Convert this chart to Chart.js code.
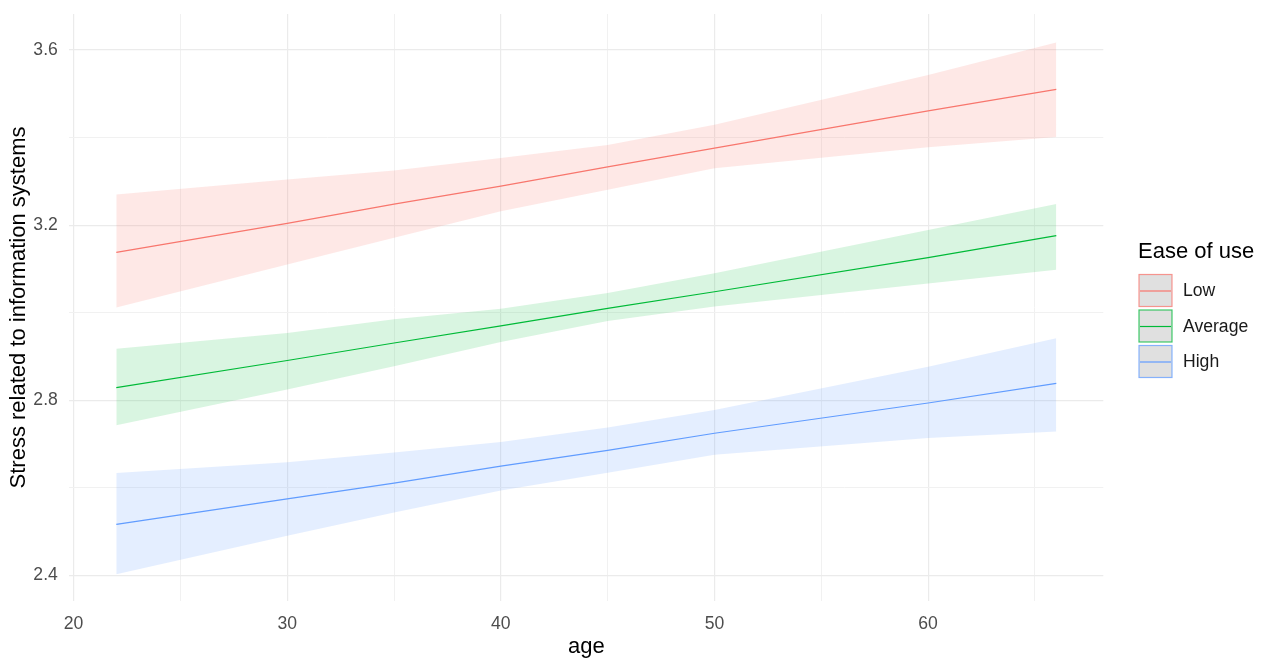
<!DOCTYPE html>
<html>
<head>
<meta charset="utf-8">
<script src="https://cdn.jsdelivr.net/npm/chart.js@4"></script>
<style>
  body { margin: 0; background: #fff; }
  #wrap { width: 1267px; height: 660px; }
</style>
</head>
<body>
<div id="wrap"><canvas id="chart" width="1267" height="660"></canvas></div>
<script>
// ages at which the effect lines / bands were read
const ages = [22, 30, 35, 40, 45, 50, 60, 66];

const groups = ['Low', 'Average', 'High'];
const colors = ['#F8766D', '#00BA38', '#619CFF'];
const fills = ['rgba(248,118,109,0.17)', 'rgba(0,186,56,0.15)', 'rgba(97,156,255,0.17)'];

const lowFit   = [3.138, 3.204, 3.248, 3.289, 3.333, 3.376, 3.461, 3.510];
const lowUpper = [3.270, 3.304, 3.325, 3.353, 3.383, 3.429, 3.543, 3.617];
const lowLower = [3.012, 3.110, 3.171, 3.232, 3.281, 3.330, 3.378, 3.401];

const avgFit   = [2.829, 2.891, 2.931, 2.970, 3.010, 3.048, 3.126, 3.176];
const avgUpper = [2.918, 2.954, 2.985, 3.009, 3.045, 3.090, 3.189, 3.248];
const avgLower = [2.743, 2.825, 2.878, 2.933, 2.981, 3.014, 3.067, 3.098];

const highFit   = [2.517, 2.575, 2.611, 2.650, 2.686, 2.725, 2.794, 2.839];
const highUpper = [2.634, 2.659, 2.681, 2.705, 2.738, 2.778, 2.877, 2.942];
const highLower = [2.403, 2.491, 2.544, 2.594, 2.635, 2.676, 2.714, 2.729];

const xMajor = [20, 30, 40, 50, 60];
const xMinor = [25, 35, 45, 55, 65];
const yMajor = [2.4, 2.8, 3.2, 3.6];
const yMinor = [2.6, 3.0, 3.4];

const fits = [lowFit, avgFit, highFit];
const uppers = [lowUpper, avgUpper, highUpper];
const lowers = [lowLower, avgLower, highLower];

const pts = arr => arr.map((v, i) => ({x: ages[i], y: v}));
const FONT = '"Liberation Sans", Arial, sans-serif';

const datasets = [];
// lines first so they are painted on top
fits.forEach((f, g) => {
  datasets.push({
    label: groups[g],
    data: pts(f),
    borderColor: colors[g],
    borderWidth: 1.2,
    pointRadius: 0,
    fill: false,
    tension: 0
  });
});
uppers.forEach((u, g) => {
  datasets.push({
    label: groups[g] + ' upper',
    data: pts(u),
    borderWidth: 0,
    borderColor: 'rgba(0,0,0,0)',
    backgroundColor: fills[g],
    pointRadius: 0,
    fill: '+1',
    tension: 0
  });
  datasets.push({
    label: groups[g] + ' lower',
    data: pts(lowers[g]),
    borderWidth: 0,
    borderColor: 'rgba(0,0,0,0)',
    pointRadius: 0,
    fill: false,
    tension: 0
  });
});

const isIn = (arr, v) => arr.some(a => Math.abs(a - v) < 1e-6);

const legendPlugin = {
  id: 'ggLegend',
  afterDraw(chart) {
    const c = chart.ctx;
    c.save();
    c.fillStyle = '#000';
    c.font = '22px ' + FONT;
    c.textBaseline = 'middle';
    c.fillText('Ease of use', 1138, 252);
    c.font = '17.6px ' + FONT;
    groups.forEach((name, g) => {
      const top = 274.5 + g * 35.5;
      c.fillStyle = '#e0e0e0';
      c.fillRect(1139, top, 33, 32);
      c.strokeStyle = colors[g];
      c.globalAlpha = 0.75;
      c.lineWidth = 1.2;
      c.strokeRect(1139, top, 33, 32);
      c.globalAlpha = 1;
      c.beginPath();
      c.moveTo(1140, top + 16.5);
      c.lineTo(1171, top + 16.5);
      c.stroke();
      c.fillStyle = '#1a1a1a';
      c.fillText(name, 1183, top + 17);
    });
    c.restore();
  }
};

new Chart(document.getElementById('chart'), {
  type: 'line',
  data: { datasets },
  options: {
    responsive: false,
    animation: false,
    layout: { padding: { top: 14, right: 163.7, left: 0, bottom: 0 } },
    plugins: {
      legend: { display: false },
      tooltip: { enabled: false },
      filler: { propagate: false }
    },
    scales: {
      x: {
        type: 'linear',
        min: 19.8,
        max: 68.2,
        afterBuildTicks: s => { s.ticks = xMajor.concat(xMinor).sort((a, b) => a - b).map(v => ({value: v})); },
        afterFit: s => { s.height = 59; s.paddingLeft = 0; s.paddingRight = 0; },
        border: { display: false },
        grid: {
          drawTicks: false,
          color: ctx => isIn(xMajor, ctx.tick.value) ? '#ebebeb' : '#f1f1f1',
          lineWidth: ctx => isIn(xMajor, ctx.tick.value) ? 1.2 : 1
        },
        ticks: {
          padding: 13,
          color: '#4d4d4d',
          font: { family: FONT, size: 17.6 },
          callback: v => isIn(xMajor, v) ? String(v) : ''
        },
        title: {
          display: true,
          text: 'age',
          color: '#000',
          font: { family: FONT, size: 22 },
          padding: { top: 0, bottom: 0 }
        }
      },
      y: {
        type: 'linear',
        min: 2.342,
        max: 3.682,
        afterBuildTicks: s => { s.ticks = yMajor.concat(yMinor).sort((a, b) => a - b).map(v => ({value: v})); },
        afterFit: s => { s.width = 69.3; s.paddingTop = 0; s.paddingBottom = 0; },
        border: { display: false },
        grid: {
          drawTicks: false,
          color: ctx => isIn(yMajor, ctx.tick.value) ? '#ebebeb' : '#f1f1f1',
          lineWidth: ctx => isIn(yMajor, ctx.tick.value) ? 1.2 : 1
        },
        ticks: {
          padding: 11.5,
          color: '#4d4d4d',
          font: { family: FONT, size: 17.6 },
          callback: v => isIn(yMajor, v) ? v.toFixed(1) : ''
        },
        title: {
          display: true,
          text: 'Stress related to information systems',
          color: '#000',
          font: { family: FONT, size: 22 },
          padding: { top: 5.5, bottom: 0 }
        }
      }
    }
  },
  plugins: [legendPlugin]
});
</script>
</body>
</html>
